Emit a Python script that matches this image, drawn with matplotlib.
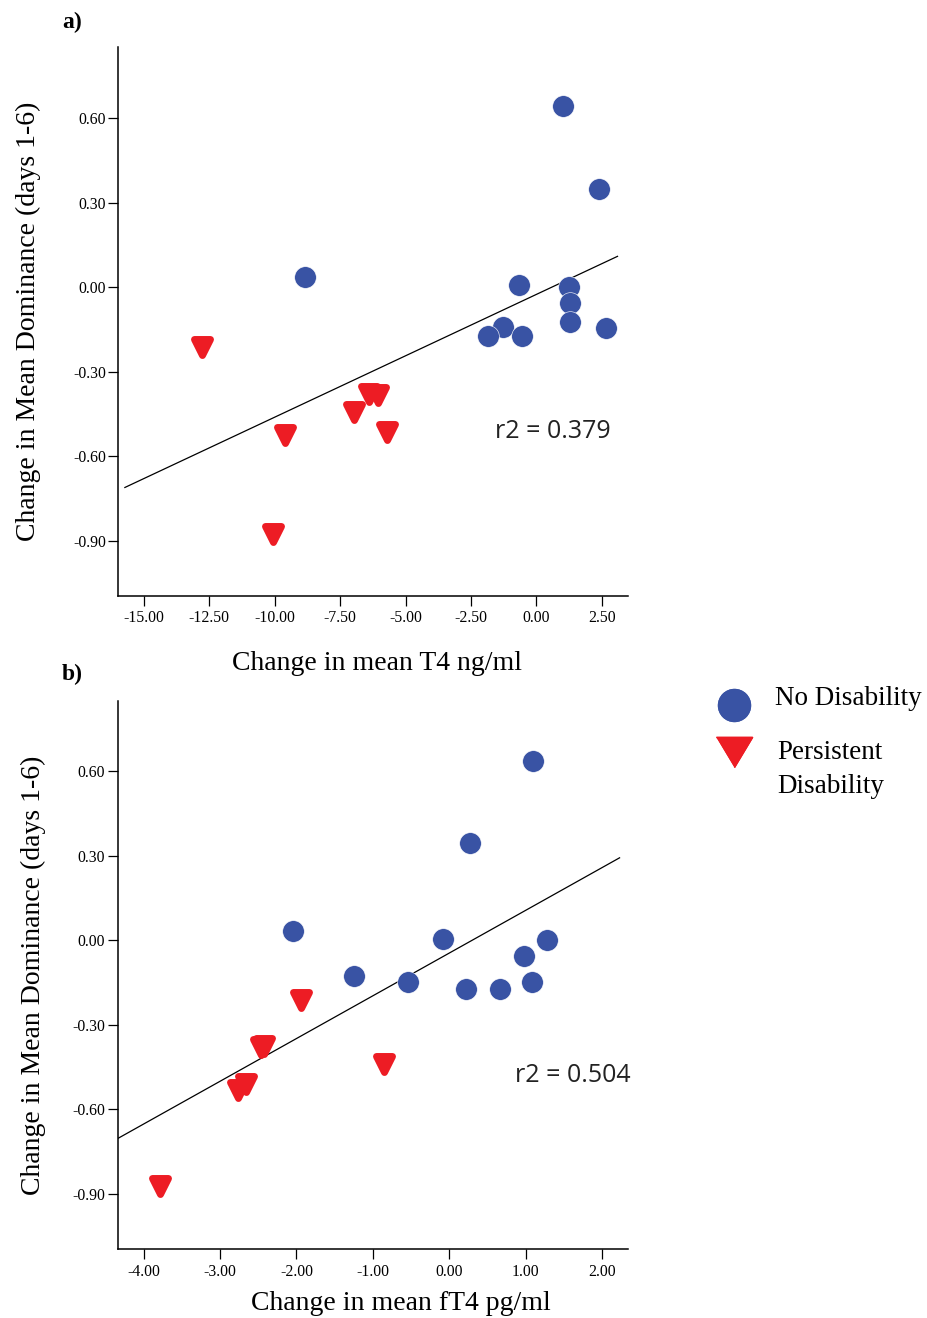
import numpy as np
import matplotlib.pyplot as plt
from matplotlib.markers import MarkerStyle
from matplotlib.lines import Line2D

BLUE = "#3953a4"
RED = "#ed1c24"

# panel a: change in mean T4 (ng/ml) vs change in mean dominance
a_blue_x = [1.01, 2.39, -8.86, -0.66, 1.25, 1.27, 1.30, 2.65, -1.26, -1.84, -0.56]
a_blue_y = [0.643, 0.350, 0.036, 0.007, 0.000, -0.054, -0.124, -0.143, -0.142, -0.174, -0.174]
a_red_x = [-12.77, -9.61, -10.06, -6.97, -6.39, -6.07, -5.72]
a_red_y = [-0.211, -0.526, -0.876, -0.443, -0.379, -0.382, -0.515]

# panel b: change in mean fT4 (pg/ml)
b_blue_x = [1.10, 0.275, -2.05, -0.084, 1.28, 0.98, -1.24, -0.54, 1.09, 0.22, 0.67]
b_blue_y = [0.638, 0.346, 0.034, 0.004, 0.000, -0.054, -0.125, -0.146, -0.146, -0.174, -0.174]
b_red_x = [-1.94, -2.46, -2.43, -0.85, -2.66, -2.77, -3.78]
b_red_y = [-0.210, -0.380, -0.376, -0.439, -0.511, -0.530, -0.872]

a_xticks = [-15, -12.5, -10, -7.5, -5, -2.5, 0, 2.5]
b_xticks = [-4, -3, -2, -1, 0, 1, 2]
yticks = [-0.9, -0.6, -0.3, 0.0, 0.3, 0.6]

plt.rcParams["font.family"] = ["Liberation Serif", "DejaVu Serif"]

fig = plt.figure(figsize=(9.28, 13.18), dpi=100)
ax_a = fig.add_axes([0.1275, 0.5478, 0.5492, 0.4165])
ax_b = fig.add_axes([0.1268, 0.0521, 0.5499, 0.4162])

tri = MarkerStyle("v", joinstyle="round")


def panel(ax, bx, by, rx, ry, xlim, ylim, fit_range, xticks, xlabel, r2, r2_pos):
    allx = np.array(bx + rx)
    ally = np.array(by + ry)
    k, b = np.polyfit(allx, ally, 1)
    xs = np.array(fit_range)
    ax.plot(xs, k * xs + b, color="black", lw=0.9, zorder=1)
    ax.plot(bx, by, "o", ms=15.6, color=BLUE, mec="white", mew=0.4, ls="none", zorder=2)
    ax.plot(rx, ry, marker=tri, ms=12, color=RED, mec=RED, mew=5, ls="none", zorder=2)
    ax.set_xlim(xlim)
    ax.set_ylim(ylim)
    ax.set_xticks(xticks)
    ax.set_xticklabels(["%.2f" % v for v in xticks])
    ax.set_yticks(yticks)
    ax.set_yticklabels(["%.2f" % v for v in yticks])
    for s in ["top", "right"]:
        ax.spines[s].set_visible(False)
    for s in ["left", "bottom"]:
        ax.spines[s].set_linewidth(1.1)
    ax.tick_params(direction="out", length=7, width=0.9, labelsize=11.3)
    ax.tick_params(axis="y", pad=2)
    ax.tick_params(axis="x", pad=3.4)
    ax.set_xlabel(xlabel, fontsize=20, va="top")
    ax.set_ylabel("Change in Mean Dominance (days 1-6)", fontsize=20)
    ax.text(r2_pos[0], r2_pos[1], r2, transform=ax.transAxes, fontsize=18,
            family=["Open Sans", "DejaVu Sans"], color="#222222", va="center", ha="left")


panel(ax_a, a_blue_x, a_blue_y, a_red_x, a_red_y, (-15.98, 3.50), (-1.096, 0.853),
      (-15.73, 3.10), a_xticks, "Change in mean T4 ng/ml", "r2 = 0.379", (0.740, 0.299))
ax_a.xaxis.set_label_coords(0.507, -0.100)
ax_a.yaxis.set_label_coords(-0.151, 0.5)

panel(ax_b, b_blue_x, b_blue_y, b_red_x, b_red_y, (-4.34, 2.34), (-1.097, 0.851),
      (-4.34, 2.23), b_xticks, "Change in mean fT4 pg/ml", "r2 = 0.504", (0.779, 0.3165))
ax_b.xaxis.set_label_coords(0.555, -0.076)
ax_b.yaxis.set_label_coords(-0.141, 0.5)

fig.text(62 / 928, 1 - 22 / 1318, "a)", fontsize=17, weight="bold", va="center")
fig.text(62 / 928, 1 - 674 / 1318, "b)", fontsize=17, weight="bold", va="center")

# legend: one key per group, labels set as text beside them
keys = [
    (Line2D([], [], marker="o", ms=23, color=BLUE, ls="none"), 707.7),
    (Line2D([], [], marker=[(-1.2, 1), (1.2, 1), (0, -1)], ms=26, color=RED, ls="none"), 755),
]
for h, ypix in keys:
    lg = fig.legend([h], [""], loc="center", bbox_to_anchor=(734.5 / 928, 1 - ypix / 1318),
                    frameon=False, handletextpad=0, borderpad=0, borderaxespad=0,
                    handlelength=2, fontsize=20)
    fig.add_artist(lg)

fig.text(775 / 928, 1 - 705 / 1318, "No Disability", fontsize=19.5, va="baseline")
fig.text(777 / 928, 1 - 759.3 / 1318, "Persistent", fontsize=19.5, va="baseline")
fig.text(777 / 928, 1 - 792.7 / 1318, "Disability", fontsize=19.5, va="baseline")

fig.savefig("out.png", dpi=100)
